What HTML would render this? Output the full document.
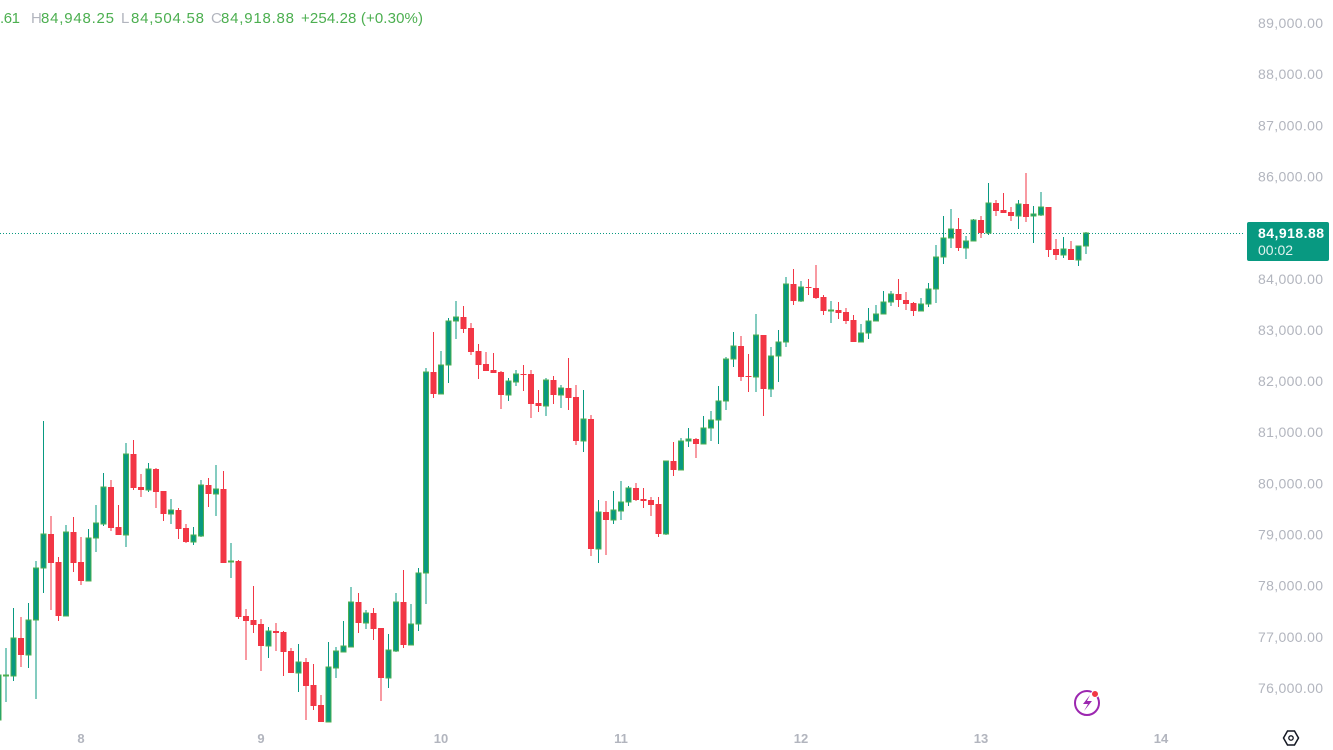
<!DOCTYPE html>
<html><head><meta charset="utf-8"><style>
html,body{margin:0;padding:0;background:#fff;width:1333px;height:750px;overflow:hidden}
svg{display:block;font-family:"Liberation Sans",sans-serif}
</style></head><body>
<svg id="s" width="1333" height="750" xmlns="http://www.w3.org/2000/svg">
<line x1="0" y1="233.5" x2="1245" y2="233.5" stroke="#089981" stroke-width="1" stroke-dasharray="1,2"/>
<g id="c"></g>
<g font-size="14" fill="#b2b5be" text-anchor="end" id="ax"></g>
<g font-size="13" fill="#b2b5be" text-anchor="middle" font-weight="bold">
<text x="81" y="743">8</text><text x="261" y="743">9</text><text x="441" y="743">10</text><text x="621" y="743">11</text><text x="801" y="743">12</text><text x="981" y="743">13</text><text x="1161" y="743">14</text>
</g>
<rect x="1247" y="222" width="82" height="39" rx="2" fill="#089981"/>
<text x="1258" y="238" font-size="14" fill="#fff" font-weight="bold" textLength="66">84,918.88</text>
<text x="1258" y="255" font-size="14" fill="#e0f2ef">00:02</text>
<g font-size="15" fill="#4caf50">
<text x="0" y="23" textLength="20">.61</text>
<text x="31" y="23" fill="#b2b5be">H</text>
<text x="41" y="23" textLength="73">84,948.25</text>
<text x="121" y="23" fill="#b2b5be">L</text>
<text x="131" y="23" textLength="73">84,504.58</text>
<text x="211" y="23" fill="#b2b5be">C</text>
<text x="221" y="23" textLength="73">84,918.88</text>
<text x="301" y="23" textLength="122">+254.28 (+0.30%)</text>
</g>
<circle cx="1087" cy="703" r="12" fill="none" stroke="#9c27b0" stroke-width="2"/>
<path d="M1090 695 L1083 704 L1088 704 L1084 711 L1092 701 L1087 701 Z" fill="#9c27b0"/>
<circle cx="1095" cy="694" r="3.5" fill="#f23645" stroke="#fff" stroke-width="1"/>
<polygon points="1286,738 1290,731 1297,731 1301,738 1297,745 1290,745" fill="none" stroke="#131722" stroke-width="1.5" transform="translate(-2.5,0)"/>
<circle cx="1291" cy="738" r="2.2" fill="none" stroke="#131722" stroke-width="1.3"/>
</svg>
<script>
var D=[[0,'g',672,675,720,722],[1,'g',648,675,675,702],[2,'g',608,638,676,681],[3,'r',617,638,655,667],[4,'g',603,620,655,668],[5,'g',561,568,620,699],[6,'g',421,534,568,593],[7,'r',516,534,563,610],[8,'r',557,562,616,621],[9,'g',525,532,616,616],[10,'r',517,532,563,572],[11,'r',537,562,581,585],[12,'g',529,538,581,581],[13,'g',505,523,538,552],[14,'g',473,487,524,526],[15,'r',480,487,528,531],[16,'r',505,527,535,535],[17,'g',443,454,535,547],[18,'r',440,454,488,490],[19,'r',474,487,490,497],[20,'g',463,469,490,492],[21,'r',468,469,492,508],[22,'r',491,491,514,521],[23,'g',499,510,514,524],[24,'r',508,510,529,539],[25,'r',524,528,542,543],[26,'g',527,535,542,545],[27,'g',480,485,536,537],[28,'r',478,485,494,507],[29,'g',465,489,494,516],[30,'r',471,489,563,563],[31,'g',543,561,561,578],[32,'r',560,561,617,619],[33,'r',609,616,621,660],[34,'r',586,620,625,633],[35,'r',619,624,646,671],[36,'g',627,631,646,658],[37,'r',623,631,633,651],[38,'r',631,632,652,676],[39,'r',648,651,673,673],[40,'g',644,662,673,692],[41,'r',658,662,686,720],[42,'r',664,685,706,710],[43,'r',695,705,722,722],[44,'g',642,667,722,722],[45,'g',647,651,668,678],[46,'g',621,646,652,652],[47,'g',587,602,647,647],[48,'r',593,602,623,633],[49,'g',610,613,623,629],[50,'r',608,613,629,640],[51,'r',628,628,678,701],[52,'g',634,650,678,688],[53,'g',593,602,651,652],[54,'r',570,602,645,648],[55,'g',604,624,645,645],[56,'g',568,573,624,631],[57,'g',368,372,573,604],[58,'r',332,372,394,398],[59,'g',351,365,394,394],[60,'g',318,321,365,383],[61,'g',301,317,321,339],[62,'r',306,317,329,333],[63,'r',323,328,352,355],[64,'r',344,351,365,379],[65,'r',352,364,371,371],[66,'r',353,370,373,373],[67,'r',371,372,395,409],[68,'g',378,381,395,401],[69,'g',370,374,382,386],[70,'r',365,374,375,391],[71,'r',370,374,404,418],[72,'r',390,403,406,412],[73,'g',378,380,406,416],[74,'r',376,380,395,404],[75,'g',385,388,395,408],[76,'r',358,388,398,410],[77,'r',385,397,441,445],[78,'g',390,419,441,452],[79,'r',415,419,549,556],[80,'g',500,512,549,563],[81,'r',501,512,520,555],[82,'g',491,510,520,524],[83,'g',481,502,511,520],[84,'g',486,488,502,506],[85,'r',483,488,500,501],[86,'r',488,499,501,508],[87,'r',497,500,505,516],[88,'r',497,504,534,537],[89,'g',461,461,534,535],[90,'r',442,461,470,476],[91,'g',438,441,470,470],[92,'g',428,439,441,447],[93,'r',438,439,444,458],[94,'g',416,428,444,444],[95,'g',411,420,428,441],[96,'g',386,401,420,444],[97,'g',357,359,401,410],[98,'g',332,346,359,367],[99,'r',336,346,377,381],[100,'r',354,376,377,392],[101,'g',314,335,377,392],[102,'r',335,335,389,416],[103,'g',347,356,389,397],[104,'g',330,342,356,382],[105,'g',277,284,342,347],[106,'r',269,284,301,305],[107,'g',281,287,301,302],[108,'r',279,287,288,295],[109,'r',265,288,298,299],[110,'r',295,297,311,315],[111,'g',301,310,310,323],[112,'r',302,310,313,319],[113,'r',308,312,321,324],[114,'r',315,320,342,342],[115,'g',324,333,342,342],[116,'g',308,321,333,339],[117,'g',305,314,321,321],[118,'g',291,302,314,314],[119,'g',291,294,302,306],[120,'r',279,294,300,307],[121,'r',292,300,304,310],[122,'r',302,303,311,316],[123,'g',298,304,311,311],[124,'g',283,289,304,307],[125,'g',245,257,289,303],[126,'g',216,238,257,264],[127,'g',209,229,238,248],[128,'r',218,229,248,251],[129,'g',236,241,248,259],[130,'g',219,220,241,241],[131,'r',216,220,233,238],[132,'g',183,203,233,235],[133,'r',200,203,211,216],[134,'r',193,210,213,213],[135,'r',207,212,216,221],[136,'g',200,204,216,229],[137,'r',173,204,217,222],[138,'g',206,214,216,243],[139,'g',192,207,215,216],[140,'r',207,207,250,257],[141,'r',239,249,255,260],[142,'g',237,249,255,258],[143,'r',241,249,260,260],[144,'g',246,246,260,266],[145,'g',232,233,246,254]];
var g=document.getElementById('c'),h='';
D.forEach(function(d){var x=81+7.5*(d[0]-11),c=d[1]=='g'?'#089981':'#f23645';
var bh=Math.max(d[4]-d[3],1);
h+='<line x1="'+x+'" x2="'+x+'" y1="'+d[2]+'" y2="'+d[5]+'" stroke="'+c+'" stroke-width="1"/>';
if(d[1]=='g')h+='<rect x="'+(x-2.5)+'" y="'+d[3]+'" width="5" height="'+bh+'" fill="#089981" stroke="#4caf50" stroke-width="1"/>';
else h+='<rect x="'+(x-3)+'" y="'+d[3]+'" width="6" height="'+bh+'" fill="#f23645"/>';});
g.innerHTML=h;
var a='';for(var i=0;i<14;i++){var p=89-i,y=23+i*51.15+5;a+='<text x="1323" y="'+y.toFixed(1)+'" textLength="65">'+p+',000.00</text>';}
document.getElementById('ax').innerHTML=a;
</script>
</body></html>
